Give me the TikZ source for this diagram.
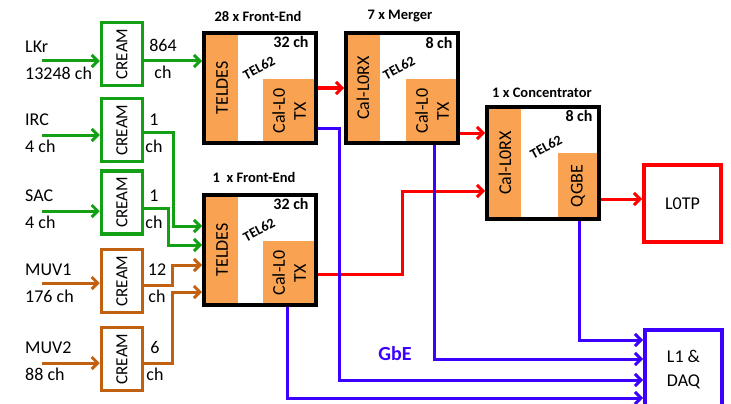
\documentclass[tikz,border=0pt]{standalone}
\usepackage{fontspec}
\setmainfont{Carlito}
\usetikzlibrary{calc,arrows.meta,positioning}

\definecolor{creamgreen}{RGB}{20,160,20}
\definecolor{creambrown}{RGB}{192,96,16}
\definecolor{fpgaorange}{RGB}{248,162,82}
\definecolor{gbeblue}{RGB}{60,0,255}

\begin{document}
\begin{tikzpicture}[
  x=1pt,y=-1pt,
  line join=miter,
  cream/.style={draw,line width=3.5pt,minimum width=41pt,minimum height=63pt,inner sep=0pt},
  board/.style={minimum width=112pt,minimum height=110pt,inner sep=0pt,outer sep=0pt,anchor=north west},
  boardedge/.style={draw=black,line width=4pt},
  fpga/.style={fill=fpgaorange},
  sink/.style={draw,line width=4pt,minimum width=77pt,minimum height=77pt,inner sep=0pt,anchor=north west,
    font=\fontsize{18}{24}\selectfont,align=left},
  detlabel/.style={font=\fontsize{18}{27}\selectfont,align=left,anchor=west,inner sep=0pt},
  chlabel/.style={font=\fontsize{18}{27}\selectfont,align=center,inner sep=0pt},
  vtext/.style={rotate=90,font=\fontsize{18}{21}\selectfont,align=center,inner sep=0pt},
  creamtext/.style={rotate=90,font=\fontsize{17}{20}\selectfont,inner sep=0pt},
  boardtitle/.style={font=\bfseries\fontsize{14.5}{16}\selectfont,inner sep=0pt},
  nch/.style={font=\bfseries\fontsize{16}{18}\selectfont,inner sep=0pt},
  tel/.style={font=\bfseries\fontsize{14}{16}\selectfont,rotate=28,inner sep=0pt},
  link/.style={line width=3pt,-{Straight Barb[length=6pt,width=12pt]}},
]
  \useasboundingbox (0,0) rectangle (731,404);
  \clip (0,0) rectangle (731,404);

  % Detectors and CREAM boards
  \node[detlabel] (lkr)  at (25,60)  {LKr\\13248 ch};
  \node[detlabel] (irc)  at (25,133) {IRC\\4 ch};
  \node[detlabel] (sac)  at (25,209) {SAC\\4 ch};
  \node[detlabel] (muv1) at (25,283) {MUV1\\176 ch};
  \node[detlabel] (muv2) at (25,361) {MUV2\\88 ch};

  \node[cream,draw=creamgreen] (creamLKr)  at (122,54)  {};
  \node[cream,draw=creamgreen] (creamIRC)  at (122,130) {};
  \node[cream,draw=creamgreen] (creamSAC)  at (122,202.5) {};
  \node[cream,draw=creambrown] (creamMUV1) at (122,281) {};
  \node[cream,draw=creambrown] (creamMUV2) at (122,359) {};
  \foreach \d in {LKr,IRC,SAC,MUV1,MUV2}
    \node[creamtext] (t\d) at (cream\d) {CREAM};

  \node[chlabel] (chLKr)  at (163,59)  {864\\ch};
  \node[chlabel] (chIRC)  at (154,133) {1\\ch};
  \node[chlabel] (chSAC)  at (154,209) {1\\ch};
  \node[chlabel] (chMUV1) at (157,283) {12\\ch};
  \node[chlabel] (chMUV2) at (155,361) {6\\ch};

  \coordinate (inLKr)  at (42,61);
  \coordinate (inIRC)  at (42,135);
  \coordinate (inSAC)  at (42,211);
  \coordinate (inMUV1) at (42,283);
  \coordinate (inMUV2) at (42,363);

  % TEL62 boards: outline, FPGA blocks, then edge on top
  \node[board] (feA)    at (204,33)  {};
  \node[board] (feB)    at (204,195) {};
  \node[board] (merger) at (346,33)  {};
  \node[board,minimum height=112pt] (conc) at (487,107) {};

  \fill[fpga] (feA.north west) rectangle ($(feA.south west)+(34,0)$);
  \fill[fpga] ($(feA.north east)+(-53,46)$) rectangle (feA.south east);
  \fill[fpga] (feB.north west) rectangle ($(feB.south west)+(34,0)$);
  \fill[fpga] ($(feB.north east)+(-53,46)$) rectangle (feB.south east);
  \fill[fpga] (merger.north west) rectangle ($(merger.south west)+(34,0)$);
  \fill[fpga] ($(merger.north east)+(-52,46)$) rectangle (merger.south east);
  \fill[fpga] (conc.north west) rectangle ($(conc.south west)+(34,0)$);
  \fill[fpga] ($(conc.north east)+(-41,46)$) rectangle (conc.south east);

  \foreach \b in {feA,feB,merger,conc}
    \draw[boardedge] (\b.south west) rectangle (\b.north east);

  \node[boardtitle] (feAtitle) at (258,16)  {28 x Front-End};
  \node[nch]   (feAch)  at (291,42)  {32 ch};
  \node[tel]   (feAtel) at (259,68)  {TEL62};
  \node[vtext] (feArx)  at (222,88)  {TELDES};
  \node[vtext] (feAtx)  at (289,111) {Cal-L0\\TX};

  \node[boardtitle] (feBtitle) at (254,177) {1\ \ x Front-End};
  \node[nch]   (feBch)  at (291,204) {32 ch};
  \node[tel]   (feBtel) at (259,230) {TEL62};
  \node[vtext] (feBrx)  at (222,250) {TELDES};
  \node[vtext] (feBtx)  at (289,273) {Cal-L0\\TX};

  \node[boardtitle] (mergertitle) at (400,16) {7 x Merger};
  \node[nch]   (mergerch)  at (439,43)  {8 ch};
  \node[tel]   (mergertel) at (399,68)  {TEL62};
  \node[vtext] (mergerrx)  at (363,88)  {Cal-L0RX};
  \node[vtext] (mergertx)  at (432,111) {Cal-L0\\TX};

  \node[boardtitle] (conctitle) at (542,93) {1 x Concentrator};
  \node[nch]   (concch)  at (579,116) {8 ch};
  \node[tel]   (conctel) at (546,147) {TEL62};
  \node[vtext] (concrx)  at (505,163) {Cal-L0RX};
  \node[vtext] (conctx)  at (578,186) {QGBE};

  % L0TP and L1/DAQ
  \node[sink,draw=red] (l0tp) at (642,163) {L0TP};
  \node[sink,draw=gbeblue,minimum height=80pt] (daq) at (643,328) {L1 \&\\DAQ};
  \node[font=\bfseries\fontsize{20}{22}\selectfont,text=gbeblue,inner sep=0pt] (gbe) at (395,354) {GbE};

  % Detector inputs
  \draw[link,creamgreen] (inLKr)  -- (inLKr -| creamLKr.west);
  \draw[link,creamgreen] (inIRC)  -- (inIRC -| creamIRC.west);
  \draw[link,creamgreen] (inSAC)  -- (inSAC -| creamSAC.west);
  \draw[link,creambrown] (inMUV1) -- (inMUV1 -| creamMUV1.west);
  \draw[link,creambrown] (inMUV2) -- (inMUV2 -| creamMUV2.west);

  % CREAM to front-ends
  \draw[link,creamgreen] (creamLKr.east |- 0,61) -- ($(feA.west |- 0,61)+(-2,0)$);
  \draw[link,creamgreen] (creamIRC.east |- 0,132) -- (173,132) -- (173,226) -- ($(feB.west |- 0,226)+(-2,0)$);
  \draw[link,creamgreen] (creamSAC.east |- 0,208) -- (168,208) -- (168,245) -- ($(feB.west |- 0,245)+(-2,0)$);
  \draw[link,creambrown] (creamMUV1.east |- 0,285) -- (172,285) -- (172,265) -- ($(feB.west |- 0,265)+(-2,0)$);
  \draw[link,creambrown] (creamMUV2.east |- 0,363) -- (172,363) -- (172,292) -- ($(feB.west |- 0,292)+(-2,0)$);

  % L0 primitives
  \draw[link,red] ($(feA.east |- 0,88)+(2,0)$) -- ($(merger.west |- 0,88)+(-2,0)$);
  \draw[link,red] ($(merger.east |- 0,133)+(2,0)$) -- ($(conc.west |- 0,133)+(-2,0)$);
  \draw[link,red] ($(feB.east |- 0,274)+(2,0)$) -- (402,274) -- (402,191) -- ($(conc.west |- 0,191)+(-2,0)$);
  \draw[link,red] ($(conc.east |- 0,199)+(2,0)$) -- (l0tp.west |- 0,199);

  % GbE to L1 and DAQ
  \draw[link,gbeblue] ($(conc.south -| 579,0)+(0,2)$) -- (579,340) -- (daq.west |- 0,340);
  \draw[link,gbeblue] ($(merger.south -| 434,0)+(0,2)$) -- (434,359) -- (daq.west |- 0,359);
  \draw[link,gbeblue] ($(feA.east |- 0,128)+(2,0)$) -- (339,128) -- (339,380) -- (daq.west |- 0,380);
  \draw[link,gbeblue] ($(feB.south -| 287,0)+(0,2)$) -- (287,398) -- (daq.west |- 0,398);
\end{tikzpicture}
\end{document}
